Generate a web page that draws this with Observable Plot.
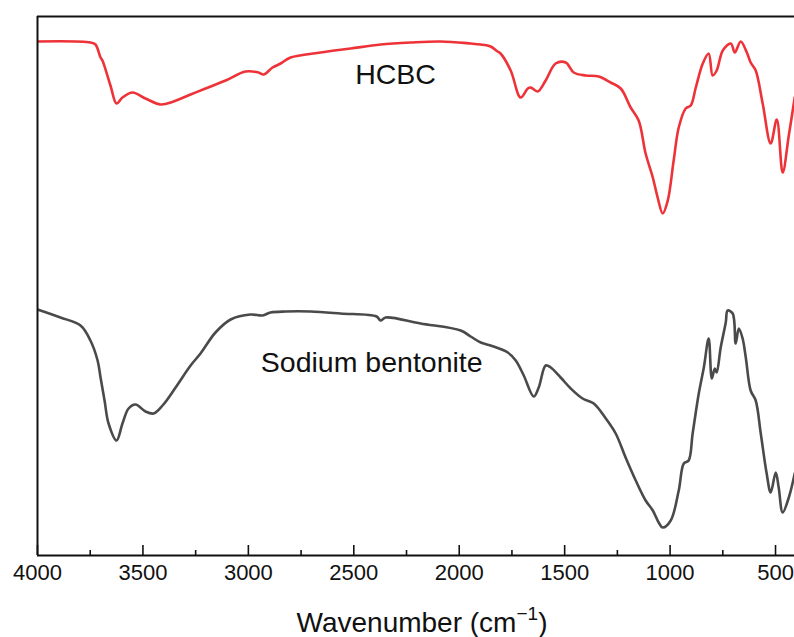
<!DOCTYPE html>
<html><head><meta charset="utf-8">
<script src="https://cdn.jsdelivr.net/npm/d3@7"></script>
<script src="https://cdn.jsdelivr.net/npm/@observablehq/plot@0.6"></script>
<style>html,body{margin:0;padding:0;background:#fff;overflow:hidden} svg{display:block}</style>
</head><body><div id="chart"></div>
<script>
// FTIR spectra, transmittance in arbitrary units
const hcbcWavenumber = [4000,3749,3725,3701,3692,3654,3625,3597,3549,3488,3416,3355,3274,3203,3108,3013,2952,2928,2885,2847,2800,2657,2515,2373,2230,2088,1946,1898,1851,1818,1804,1756,1709,1675,1661,1628,1590,1543,1495,1457,1400,1339,1282,1234,1187,1149,1116,1082,1059,1035,1011,983,959,926,902,878,845,817,798,779,750,712,693,665,636,618,594,561,523,494,466,437,409];
const hcbcValue = [514,513,511,498,495,470,452,458,463,457,451,454,461,467,475,484,483,481,488,492,498,503,507,511,513,514,512,511,509,504,502,485,458,467,468,464,475,492,493,483,480,479,473,467,448,435,402,378,358,342,355,395,428,447,450,468,492,502,480,485,505,512,503,514,503,493,485,452,412,436,383,420,458];

const bentoniteWavenumber = [4000,3891,3796,3749,3715,3701,3682,3663,3625,3597,3568,3535,3488,3450,3407,3345,3274,3227,3156,3084,2990,2933,2895,2823,2705,2563,2392,2373,2349,2183,1993,1946,1898,1851,1770,1732,1694,1647,1623,1590,1566,1519,1471,1415,1362,1305,1258,1211,1163,1116,1082,1054,1035,997,959,935,912,893,864,840,817,802,788,779,760,736,727,703,689,674,656,641,618,594,570,542,523,499,485,466,437,409];
const bentoniteValue = [246,238,230,215,195,178,155,132,115,132,147,151,144,142,150,168,190,202,223,236,241,240,243,244,244,242,239,235,238,232,225,219,213,210,203,195,180,159,168,190,188,178,167,157,152,137,122,98,75,55,45,33,28,35,65,92,95,122,162,188,217,177,187,183,208,233,245,242,212,227,217,198,165,155,122,82,63,83,68,43,58,82];

const majorTicks = [4000,3500,3000,2500,2000,1500,1000,500];
const minorTicks = [3750,3250,2750,2250,1750,1250,750];

const seriesNames = ["HCBC","Sodium bentonite"];
const seriesColors = ["#ee3338","#4a4a4a"];
const labelWavenumber = [2302,2415];
const labelValue = [481,193];

const hcbc = hcbcWavenumber.map((w,i)=>({w, v:hcbcValue[i]}));
const bent = bentoniteWavenumber.map((w,i)=>({w, v:bentoniteValue[i]}));
const labels = seriesNames.map((s,i)=>({s, w:labelWavenumber[i], v:labelValue[i]}));

const yMax = 539;
const font = "'Liberation Sans', Arial, sans-serif";

const chart = Plot.plot({
  width: 794, height: 637,
  marginLeft: 37, marginRight: 0, marginTop: 16, marginBottom: 82,
  style: {fontFamily: font, background: "#fff", overflow: "visible"},
  x: {domain: [4000, 410]},
  y: {domain: [0, yMax], axis: null},
  marks: [
    Plot.line(hcbc, {x:"w", y:"v", stroke: seriesColors[0], strokeWidth: 2.6, curve: "catmull-rom", clip: true}),
    Plot.line(bent, {x:"w", y:"v", stroke: seriesColors[1], strokeWidth: 2.6, curve: "catmull-rom", clip: true}),
    Plot.ruleX(majorTicks, {x: d=>d, y1: 0, y2: 10, stroke: "#111", strokeWidth: 1.6}),
    Plot.ruleX(minorTicks, {x: d=>d, y1: 0, y2: 5, stroke: "#111", strokeWidth: 1.6}),
    Plot.ruleY([0], {stroke:"#111", strokeWidth: 2}),
    Plot.ruleY([yMax], {stroke:"#111", strokeWidth: 2}),
    Plot.ruleX([4000], {y1: 0, y2: yMax, stroke:"#111", strokeWidth: 2}),
    Plot.axisX({ticks: majorTicks, tickSize: 0, tickPadding: 9, fontSize: 22, tickFormat: d=>String(d), label: null, fill: "#111"}),
    Plot.text(labels, {x:"w", y:"v", text:"s", fontSize: 28.5, fill:"#111", textAnchor:"middle"})
  ]
});
document.getElementById("chart").appendChild(chart);

const svg = d3.select(chart);
const t = svg.append("text")
  .attr("x", 422).attr("y", 632)
  .attr("text-anchor","middle")
  .attr("font-size", 28)
  .attr("font-family", font)
  .attr("fill", "#111");
t.append("tspan").text("Wavenumber (cm");
t.append("tspan").text("\u22121").attr("font-size", 19).attr("dy", -12);
t.append("tspan").text(")").attr("dy", 12);
</script>
</body></html>
